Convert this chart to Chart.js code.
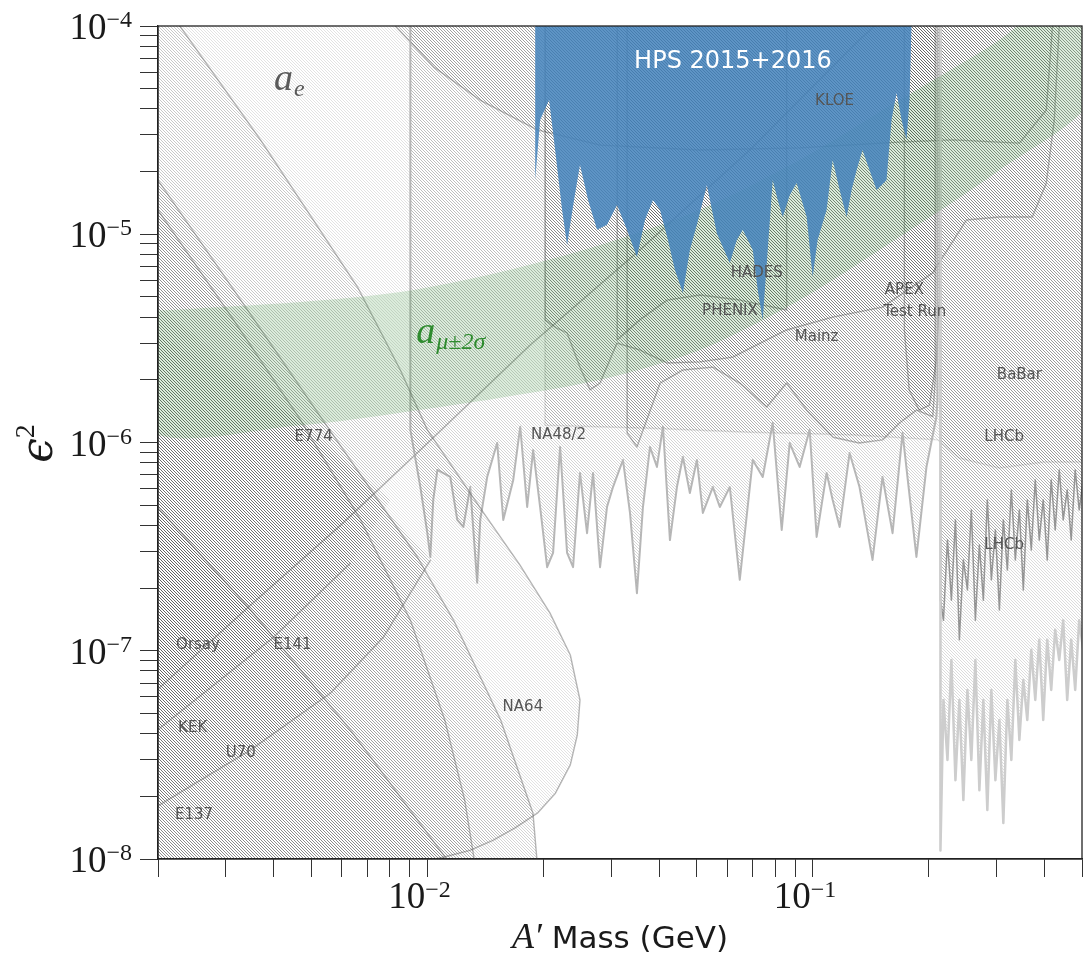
<!DOCTYPE html>
<html>
<head>
<meta charset="utf-8">
<script src="https://cdn.jsdelivr.net/npm/chart.js@4.4.1/dist/chart.umd.min.js"></script>
<style>
  html, body { margin: 0; padding: 0; background: #fff; }
  #wrap { width: 1085px; height: 958px; position: relative; }
</style>
</head>
<body>
<div id="wrap"><canvas id="grafico"></canvas></div>
<script>
// ---- values (mass in GeV, eps^2) ----

const aeMass = [0.0019, 0.00348, 0.00595, 0.00959, 0.0185, 0.0356, 0.0687, 0.132, 0.145];
const aeEps  = [6.0e-8, 1.66e-7, 4.0e-7, 9.2e-7, 2.94e-6, 8.4e-6, 2.54e-5, 8.57e-5, 1.0e-4];

const na64Mass = [0.00222, 0.00369, 0.00659, 0.00851, 0.0100, 0.0140, 0.0174, 0.0208, 0.0235, 0.0249, 0.0245, 0.0235, 0.0215, 0.0193, 0.0169, 0.0148, 0.0129, 0.0110, 0.00959];
const na64Eps  = [1.07e-4, 2.84e-5, 5.58e-6, 2.23e-6, 1.15e-6, 4.59e-7, 2.58e-7, 1.52e-7, 9.54e-8, 5.8e-8, 3.94e-8, 2.83e-8, 2.07e-8, 1.66e-8, 1.41e-8, 1.23e-8, 1.10e-8, 1.02e-8, 9.67e-9];

const e137Mass = [0.00192, 0.00328, 0.00528, 0.00942, 0.0117, 0.0155, 0.0188, 0.0193];
const e137Eps  = [2.03e-5, 4.83e-6, 1.33e-6, 2.82e-7, 1.40e-7, 4.65e-8, 1.66e-8, 9.4e-9];

const e774Mass = [0.00192, 0.00314, 0.00469, 0.00671, 0.00904, 0.0111, 0.0125, 0.0133];
const e774Eps  = [1.46e-5, 3.88e-6, 1.28e-6, 4.25e-7, 1.40e-7, 4.65e-8, 1.92e-8, 9.4e-9];

const e141Mass = [0.00192, 0.00348, 0.00632, 0.0115];
const e141Eps  = [5.3e-7, 1.57e-7, 4.16e-8, 9.4e-9];

const kekMass = [0.00192, 0.00399, 0.00632, 0.00802, 0.00469, 0.00192];
const kekEps  = [3.94e-8, 1.16e-7, 2.64e-7, 5.3e-7, 1.28e-6, 3.47e-6];

const u70Mass = [0.00192, 0.00348, 0.00561, 0.00769, 0.0102, 0.00632, 0.00348, 0.00192];
const u70Eps  = [1.72e-8, 3.34e-8, 6.27e-8, 1.16e-7, 2.73e-7, 7.38e-7, 2.0e-6, 4.83e-6];

const na48Mass = [0.009035, 0.009592, 0.01, 0.01018, 0.01036, 0.01062, 0.01147, 0.01196, 0.0124, 0.01292,
  0.01347, 0.01372, 0.0143, 0.01518, 0.01574, 0.01671, 0.01742, 0.01816, 0.01882, 0.01962,
  0.02046, 0.0212, 0.02211, 0.02305, 0.02389, 0.0249, 0.02597, 0.02692, 0.02807, 0.02926,
  0.03033, 0.03219, 0.03357, 0.03499, 0.03627, 0.03783, 0.03944, 0.04088, 0.04262, 0.04444,
  0.04605, 0.04801, 0.05007, 0.05188, 0.05507, 0.05742, 0.06095, 0.06469, 0.06991, 0.0742,
  0.07877, 0.08312, 0.08718, 0.09252, 0.09822, 0.1024, 0.1087, 0.1127, 0.1175, 0.1247,
  0.1323, 0.143, 0.1518, 0.1612, 0.1711, 0.1859, 0.1974, 0.2095, 0.2108];
const na48Eps = [1.15e-6, 6.11e-7, 3.67e-7, 2.82e-7, 5.30e-7, 7.38e-7, 6.83e-7, 4.25e-7, 3.93e-7, 6.11e-7,
  2.12e-7, 4.25e-7, 6.83e-7, 9.94e-7, 4.25e-7, 6.61e-7, 1.19e-6, 4.90e-7, 9.20e-7, 4.90e-7,
  2.52e-7, 2.95e-7, 9.51e-7, 2.95e-7, 2.52e-7, 7.14e-7, 3.67e-7, 7.14e-7, 2.52e-7, 4.90e-7,
  6.11e-7, 8.24e-7, 4.59e-7, 1.89e-7, 4.90e-7, 9.51e-7, 7.63e-7, 1.19e-6, 3.40e-7, 6.11e-7,
  8.52e-7, 5.72e-7, 8.24e-7, 4.59e-7, 6.11e-7, 4.90e-7, 6.11e-7, 2.19e-7, 8.24e-7, 6.83e-7,
  1.24e-6, 3.80e-7, 9.94e-7, 7.63e-7, 1.15e-6, 3.52e-7, 7.14e-7, 5.30e-7, 3.93e-7, 8.90e-7,
  6.11e-7, 2.73e-7, 6.83e-7, 3.67e-7, 1.11e-6, 2.82e-7, 7.63e-7, 1.33e-6, 1.60e-6];

const mainzMass = [0.0330, 0.0350, 0.0402, 0.0461, 0.0551, 0.0647, 0.0760, 0.0856, 0.0965, 0.113, 0.132, 0.152, 0.168, 0.186, 0.205, 0.208];
const mainzEps  = [1.11e-6, 9.51e-7, 1.93e-6, 2.23e-6, 2.30e-6, 1.93e-6, 1.48e-6, 1.93e-6, 1.43e-6, 1.06e-6, 9.94e-7, 1.03e-6, 1.24e-6, 1.43e-6, 1.33e-6, 2.0e-6];

const phenixMass = [0.02022, 0.02161, 0.02305, 0.0249, 0.02644, 0.02807, 0.03106, 0.03563, 0.04187, 0.05098, 0.06205, 0.08563, 0.1127, 0.1518, 0.2046, 0.2506, 0.3052, 0.3716, 0.4039, 0.4237, 0.4365];
const phenixEps  = [3.88e-6, 3.55e-6, 3.36e-6, 2.30e-6, 1.79e-6, 1.93e-6, 3.00e-6, 2.78e-6, 2.41e-6, 2.44e-6, 2.57e-6, 3.47e-6, 4.00e-6, 4.47e-6, 6.51e-6, 1.17e-5, 1.21e-5, 1.21e-5, 1.76e-5, 3.54e-5, 1.0e-4];

const kloeMass = [0.00826, 0.0104, 0.0137, 0.0193, 0.0281, 0.0510, 0.0925, 0.168, 0.231, 0.344, 0.404, 0.419];
const kloeEps  = [1.0e-4, 6.35e-5, 4.41e-5, 3.17e-5, 2.68e-5, 2.54e-5, 2.60e-5, 2.77e-5, 2.84e-5, 2.74e-5, 3.95e-5, 9.89e-5];

const hadesMass = [0.0311, 0.0356, 0.0419, 0.0510, 0.0647, 0.0856];
const hadesEps  = [3.11e-6, 3.88e-6, 4.83e-6, 5.11e-6, 4.83e-6, 4.33e-6];

const apexMass = [0.173, 0.178, 0.189, 0.201, 0.2095, 0.2135];
const apexEps  = [3.47e-6, 1.79e-6, 1.43e-6, 1.51e-6, 2.49e-6, 5.0e-6];

const babarMass = [0.0202, 0.0378, 0.0687, 0.125, 0.211, 0.240, 0.305, 0.40, 0.52];
const babarEps  = [1.21e-6, 1.17e-6, 1.12e-6, 1.09e-6, 1.03e-6, 8.43e-7, 7.54e-7, 8.06e-7, 8.06e-7];

const lhcbMass = [0.2146, 0.2185, 0.2238, 0.2291, 0.2347, 0.2403, 0.2461, 0.2521, 0.2581, 0.2644,
  0.2708, 0.2773, 0.2840, 0.2909, 0.2980, 0.3052, 0.3125, 0.3201, 0.3278, 0.3357,
  0.3439, 0.3521, 0.3606, 0.3693, 0.3782, 0.3873, 0.3966, 0.4062, 0.4160, 0.4260,
  0.4365, 0.4469, 0.4577, 0.4688, 0.4801, 0.4917, 0.5036];
const lhcbPromptEps = [1.75e-7, 1.40e-7, 3.40e-7, 1.75e-7, 4.25e-7, 1.13e-7, 2.73e-7, 1.96e-7, 4.74e-7, 1.40e-7,
  3.22e-7, 1.75e-7, 5.30e-7, 2.19e-7, 3.80e-7, 1.57e-7, 4.25e-7, 2.44e-7, 5.91e-7, 2.73e-7,
  4.74e-7, 1.96e-7, 5.30e-7, 3.05e-7, 6.61e-7, 3.40e-7, 5.30e-7, 2.73e-7, 6.61e-7, 3.80e-7,
  7.38e-7, 4.25e-7, 5.91e-7, 3.40e-7, 7.38e-7, 4.74e-7, 6.61e-7];
const lhcbDisplEps = [1.10e-8, 5.80e-8, 2.99e-8, 9.03e-8, 2.39e-8, 5.80e-8, 1.92e-8, 6.48e-8, 2.99e-8, 9.03e-8,
  2.14e-8, 5.80e-8, 1.72e-8, 6.48e-8, 2.39e-8, 4.65e-8, 1.49e-8, 5.80e-8, 2.99e-8, 9.03e-8,
  3.73e-8, 7.24e-8, 4.65e-8, 1.01e-7, 5.80e-8, 1.13e-7, 4.65e-8, 1.13e-7, 6.48e-8, 1.26e-7,
  9.03e-8, 1.40e-7, 5.80e-8, 1.13e-7, 6.48e-8, 1.40e-7, 1.01e-7];

const hpsMass = [0.01905, 0.01962, 0.0207, 0.02146, 0.02237, 0.02305, 0.02403, 0.0249, 0.02613, 0.02757,
  0.02926, 0.03106, 0.03297, 0.03499, 0.03671, 0.03851, 0.04015, 0.04212, 0.04391, 0.04605,
  0.04801, 0.05007, 0.05314, 0.0564, 0.06095, 0.06354, 0.06586, 0.06991, 0.07201, 0.0742,
  0.07645, 0.07877, 0.08116, 0.08362, 0.08718, 0.09088, 0.09363, 0.09649, 0.1, 0.103,
  0.1087, 0.1127, 0.1175, 0.1225, 0.1262, 0.13, 0.1347, 0.1405, 0.1465, 0.1509,
  0.1555, 0.1602, 0.1651, 0.1701, 0.1752, 0.1784, 0.1805];
const hpsEps = [1.82e-5, 3.54e-5, 4.41e-5, 2.54e-5, 1.31e-5, 8.88e-6, 1.46e-5, 2.15e-5, 1.46e-5, 1.05e-5,
  1.11e-5, 1.38e-5, 1.05e-5, 7.78e-6, 1.17e-5, 1.46e-5, 1.31e-5, 9.38e-6, 6.73e-6, 5.22e-6,
  8.40e-6, 1.11e-5, 1.72e-5, 1.01e-5, 7.28e-6, 9.38e-6, 1.05e-5, 8.40e-6, 5.40e-6, 3.88e-6,
  8.40e-6, 1.82e-5, 1.46e-5, 1.21e-5, 1.54e-5, 1.76e-5, 1.46e-5, 1.21e-5, 6.23e-6, 9.38e-6,
  1.31e-5, 2.27e-5, 1.63e-5, 1.21e-5, 1.63e-5, 2.03e-5, 2.54e-5, 2.03e-5, 1.63e-5, 1.72e-5,
  1.82e-5, 3.54e-5, 4.77e-5, 3.54e-5, 2.84e-5, 4.41e-5, 1.0e-4];

// a_mu +- 2 sigma band
const bandMass  = [0.00192, 0.00469, 0.00851, 0.0155, 0.0281, 0.0510, 0.0925, 0.168, 0.305, 0.538];
const bandUpper = [4.28e-6, 4.73e-6, 5.28e-6, 6.59e-6, 8.88e-6, 1.31e-5, 2.27e-5, 4.41e-5, 8.57e-5, 1.86e-4];
const bandLower = [1.14e-6, 1.21e-6, 1.39e-6, 1.64e-6, 2.00e-6, 2.78e-6, 4.83e-6, 9.70e-6, 2.03e-5, 4.66e-5];

// region names
const labelText = ['KLOE', 'HADES', 'PHENIX', 'Mainz', 'APEX', 'Test Run', 'BaBar', 'LHCb', 'LHCb', 'NA48/2', 'E774', 'Orsay', 'E141', 'KEK', 'U70', 'E137', 'NA64'];
const labelMass = [0.114, 0.0716, 0.0610, 0.1024, 0.173, 0.184, 0.344, 0.314, 0.314, 0.0219, 0.00507, 0.00254, 0.00447, 0.00246, 0.00328, 0.00248, 0.0177];
const labelEps  = [4.36e-5, 6.51e-6, 4.28e-6, 3.21e-6, 5.40e-6, 4.23e-6, 2.11e-6, 1.06e-6, 3.22e-7, 1.09e-6, 1.06e-6, 1.07e-7, 1.07e-7, 4.26e-8, 3.23e-8, 1.63e-8, 5.37e-8];
const hpsLabelAt = [0.0621, 6.72e-5];
const aeLabelAt = [0.00437, 5.38e-5];
const amuLabelAt = [0.01147, 3.28e-6];

// axes
const tickDigits = [1, 2, 3, 4, 5, 6, 7, 8, 9];
const xDecades = [0.001, 0.01, 0.1];
const yDecades = [1e-8, 1e-7, 1e-6, 1e-5];
const xLabelValues = [0.01, 0.1];
const xLabelExps = ['\u22122', '\u22121'];
const yLabelValues = [1e-8, 1e-7, 1e-6, 1e-5, 1e-4];
const yLabelExps = ['\u22128', '\u22127', '\u22126', '\u22125', '\u22124'];

const X_MIN = 0.002, X_MAX = 0.5, Y_MIN = 1e-8, Y_MAX = 1e-4;
const xTicks = xDecades.flatMap(d => tickDigits.map(k => k * d)).filter(v => v >= X_MIN * 0.999 && v <= X_MAX * 1.001);
const yTicks = yDecades.flatMap(d => tickDigits.map(k => k * d)).concat([Y_MAX]);

// polygons run past the frame so their outer edges get clipped away
const TOPO = 2e-4, BASE = 5e-9, LEFT = 0.0017;

function pontos(ms, es) { return ms.map((m, i) => ({ x: m, y: es[i] })); }
function abertoTopo(ms, es, topo = TOPO) {
  const p = pontos(ms, es);
  const a = { x: ms[0], y: topo }, b = { x: ms[ms.length - 1], y: topo };
  return [a, ...p, b, a];
}
function abertoEsquerda(ms, es) {
  const p = pontos(ms, es);
  return [...p, { x: ms[ms.length - 1], y: BASE }, { x: LEFT, y: BASE }, { x: LEFT, y: es[0] }, p[0]];
}
function fechado(ms, es) { const p = pontos(ms, es); return [...p, p[0]]; }
function faixa(ms, sup, inf) {
  const t = pontos(ms, sup), b = pontos(ms, inf).reverse();
  return [...t, ...b, t[0]];
}

function hatch(color) {
  const c = document.createElement('canvas');
  c.width = 6; c.height = 6;
  const g = c.getContext('2d');
  g.strokeStyle = color; g.lineWidth = 1;
  for (let k = -6; k <= 6; k += 3) { g.beginPath(); g.moveTo(0, k); g.lineTo(6, k + 6); g.stroke(); }
  return g.createPattern(c, 'repeat');
}
const hatchStd = hatch('rgba(60,60,60,0.22)');
const hatchLight = hatch('rgba(60,60,60,0.15)');
const hatchDark = hatch('rgba(60,60,60,0.32)');
const hatchPale = hatch('rgba(140,140,140,0.3)');
const EDGE = 'rgba(95,95,95,0.45)';

function regiao(label, data, fill, order, stroke = EDGE, width = 1.4, edges = Infinity) {
  return { label, data, fill: 'shape', backgroundColor: fill, borderColor: stroke, borderWidth: width,
           pointRadius: 0, pointHoverRadius: 0, tension: 0, borderJoinStyle: 'round', order,
           // only the first `edges` segments get a visible outline
           segment: { borderColor: c => (c.p0DataIndex < edges ? stroke : 'rgba(0,0,0,0)') } };
}

const datasets = [
  regiao('a_e', abertoTopo(aeMass, aeEps), hatchLight, 90),
  regiao('KLOE', abertoTopo(kloeMass, kloeEps), hatchStd, 85),
  regiao('PHENIX', abertoTopo(phenixMass, phenixEps), hatchStd, 84),
  regiao('HADES', abertoTopo(hadesMass, hadesEps), hatchStd, 83),
  regiao('Mainz', abertoTopo(mainzMass, mainzEps), hatchStd, 82),
  regiao('APEX', abertoTopo(apexMass, apexEps), hatchStd, 81),
  regiao('BaBar', abertoTopo(babarMass, babarEps), hatchStd, 80, 'rgba(95,95,95,0.18)'),
  regiao('NA48/2', abertoTopo(na48Mass, na48Eps), hatchStd, 79, 'rgba(175,175,175,0.9)', 2),
  regiao('LHCb', abertoTopo(lhcbMass, lhcbPromptEps), hatchDark, 78, 'rgba(110,110,110,0.7)', 1.5),
  regiao('LHCb displaced', abertoTopo(lhcbMass, lhcbDisplEps), hatchPale, 77, 'rgba(205,205,205,1)', 2.5),
  regiao('NA64', abertoEsquerda(na64Mass, na64Eps), hatchLight, 70),
  regiao('E137', abertoEsquerda(e137Mass, e137Eps), hatchStd, 69),
  regiao('E774', abertoEsquerda(e774Mass, e774Eps), hatchStd, 68),
  regiao('E141', abertoEsquerda(e141Mass, e141Eps), hatchStd, 67),
  regiao('KEK', fechado(kekMass, kekEps), hatchStd, 66, EDGE, 1.4, 2),
  regiao('U70', fechado(u70Mass, u70Eps), hatchStd, 65, EDGE, 1.4, 4),
  { label: 'a_mu', data: faixa(bandMass, bandUpper, bandLower), fill: 'shape', backgroundColor: 'rgba(40,140,40,0.17)',
    borderWidth: 0, pointRadius: 0, tension: 0.3, order: 20 },
  { label: 'HPS', data: abertoTopo(hpsMass, hpsEps), fill: 'shape', backgroundColor: 'rgba(68,130,188,0.86)',
    borderWidth: 0, pointRadius: 0, tension: 0, order: 10 }
];

function comIndice(ctx, base, sub, cx, cy, color) {
  ctx.fillStyle = color;
  ctx.textAlign = 'left'; ctx.textBaseline = 'alphabetic';
  ctx.font = 'italic 38px "Liberation Serif"';
  const wb = ctx.measureText(base).width;
  ctx.font = 'italic 24px "Liberation Serif"';
  const ws = ctx.measureText(sub).width;
  const x0 = cx - (wb + ws) / 2;
  ctx.font = 'italic 38px "Liberation Serif"';
  ctx.fillText(base, x0, cy + 8);
  ctx.font = 'italic 24px "Liberation Serif"';
  ctx.fillText(sub, x0 + wb + 1, cy + 14);
}

function potencia(ctx, exp, x0, base10, baseExp) {
  ctx.textAlign = 'left'; ctx.textBaseline = 'alphabetic';
  ctx.font = '37px "Liberation Serif"';
  ctx.fillText('10', x0, base10);
  const w = ctx.measureText('10').width;
  ctx.font = '24px "Liberation Serif"';
  ctx.fillText(exp, x0 + w, baseExp);
}

const desenho = {
  id: 'desenho',
  afterDraw(chart) {
    const { ctx, chartArea: a, scales: { x, y } } = chart;
    ctx.save();

    ctx.fillStyle = '#555';
    ctx.font = '15px "DejaVu Sans"';
    ctx.textAlign = 'center'; ctx.textBaseline = 'middle';
    labelText.forEach((t, i) => ctx.fillText(t, x.getPixelForValue(labelMass[i]), y.getPixelForValue(labelEps[i])));

    ctx.fillStyle = '#fff';
    ctx.font = '24px "DejaVu Sans"';
    ctx.fillText('HPS 2015+2016', x.getPixelForValue(hpsLabelAt[0]), y.getPixelForValue(hpsLabelAt[1]));

    comIndice(ctx, 'a', 'e', x.getPixelForValue(aeLabelAt[0]), y.getPixelForValue(aeLabelAt[1]), '#5a5a5a');
    comIndice(ctx, 'a', '\u03bc\u00b12\u03c3', x.getPixelForValue(amuLabelAt[0]), y.getPixelForValue(amuLabelAt[1]), '#2e8b2e');

    // frame
    ctx.strokeStyle = '#222'; ctx.lineWidth = 1.3;
    ctx.strokeRect(a.left, a.top, a.right - a.left, a.bottom - a.top);

    // tick labels
    ctx.fillStyle = '#1a1a1a';
    yLabelValues.forEach((v, i) => {
      const py = y.getPixelForValue(v);
      ctx.font = '37px "Liberation Serif"';
      const w10 = ctx.measureText('10').width;
      ctx.font = '24px "Liberation Serif"';
      const we = ctx.measureText(yLabelExps[i]).width;
      potencia(ctx, yLabelExps[i], a.left - 26 - w10 - we, py + 13, py + 1);
    });
    xLabelValues.forEach((v, i) => {
      const px = x.getPixelForValue(v);
      ctx.font = '37px "Liberation Serif"';
      const w10 = ctx.measureText('10').width;
      potencia(ctx, xLabelExps[i], px - w10 - 2, a.bottom + 49, a.bottom + 38);
    });

    // axis titles
    ctx.save();
    ctx.translate(52, (a.top + a.bottom) / 2 + 1);
    ctx.rotate(-Math.PI / 2);
    ctx.font = 'italic 44px "DejaVu Serif"';
    const we = ctx.measureText('\u03f5').width;
    ctx.font = '28px "Liberation Serif"';
    const w2 = ctx.measureText('2').width;
    ctx.textAlign = 'left'; ctx.textBaseline = 'alphabetic';
    ctx.font = 'italic 44px "DejaVu Serif"';
    ctx.fillText('\u03f5', -(we + w2) / 2, 0);
    ctx.font = '28px "Liberation Serif"';
    ctx.fillText('2', -(we + w2) / 2 + we, -18);
    ctx.restore();

    ctx.font = 'italic 36px "Liberation Serif"';
    const wa = ctx.measureText('A\u2032').width;
    ctx.font = '31px "DejaVu Sans"';
    const wm = ctx.measureText(' Mass (GeV)').width;
    const xs = (a.left + a.right) / 2 - (wa + wm) / 2;
    ctx.textAlign = 'left'; ctx.textBaseline = 'alphabetic';
    ctx.font = 'italic 36px "Liberation Serif"';
    ctx.fillText('A\u2032', xs, 948);
    ctx.font = '31px "DejaVu Sans"';
    ctx.fillText(' Mass (GeV)', xs + wa, 948);

    ctx.restore();
  }
};

const eixo = (min, max, ticks, fit) => ({
  type: 'logarithmic', min, max,
  grid: { display: true, drawOnChartArea: false, drawTicks: true, tickLength: 18, color: '#333', lineWidth: 1 },
  border: { display: true, color: '#222', width: 1.3 },
  ticks: { display: false, autoSkip: false },
  afterBuildTicks: (s) => { s.ticks = ticks.map(v => ({ value: v })); },
  afterFit: fit
});

new Chart(document.getElementById('grafico'), {
  type: 'line',
  data: { datasets },
  options: {
    responsive: true,
    maintainAspectRatio: false,
    animation: false,
    events: [],
    layout: { padding: { top: 26, right: 3, left: 0, bottom: 0 } },
    plugins: { legend: { display: false }, tooltip: { enabled: false } },
    scales: {
      x: eixo(X_MIN, X_MAX, xTicks, (s) => { s.height = 99; }),
      y: eixo(Y_MIN, Y_MAX, yTicks, (s) => { s.width = 158; })
    }
  },
  plugins: [desenho]
});
</script>
</body>
</html>
